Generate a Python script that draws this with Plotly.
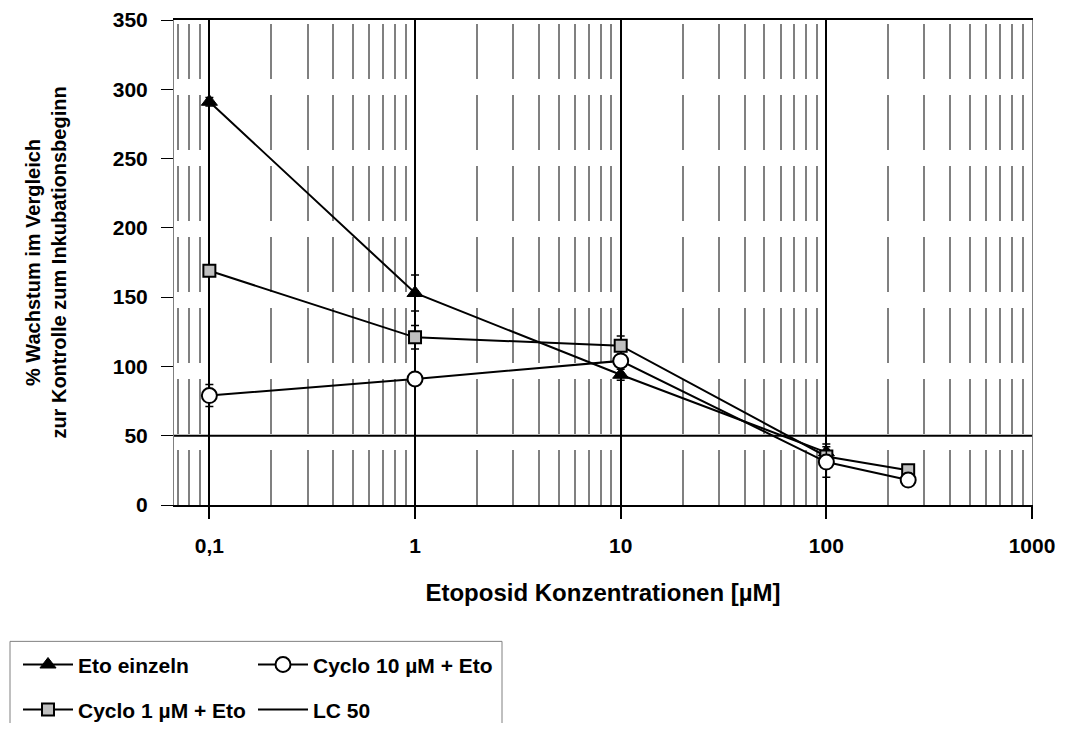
import plotly.graph_objects as go

# ---- data ----
conc = [0.1, 1, 10, 100, 250]
conc_eto = [0.1, 1, 10, 100]
eto_einzeln = [291, 153, 94, 38]
eto_einzeln_err = [3, 13, 4, 6]
cyclo1 = [169, 121, 115, 35, 25]
cyclo1_err = [3, 8.5, 7, 3, 2.5]
cyclo10 = [79, 91, 104, 31, 18]
cyclo10_err = [8, 3, 3, 11, 2]
lc50_x = [0.0673, 1000]
lc50_y = [50, 50]

xtick_vals = [0.1, 1, 10, 100, 1000]
xtick_text = ["0,1", "1", "10", "100", "1000"]
ytick_vals = [0, 50, 100, 150, 200, 250, 300, 350]

FONT = "Arial, Liberation Sans, sans-serif"
OFF = 8  # page body margin
W, H = 1060, 715
# plot area on screen: x 174..1032, y 20..505.5
L, T = 174 - OFF, 20 - OFF
R = W - (1032 - OFF)
B = H - (505.5 - OFF)
PW, PH = W - L - R, H - T - B


def px_to_paper_x(px):
    return (px - OFF - L) / PW


def px_to_paper_y(py):
    return (H - B - (py - OFF)) / PH


fig = go.Figure()

fig.add_trace(go.Scatter(
    x=lc50_x, y=lc50_y, mode="lines", name="LC 50",
    line=dict(color="black", width=2), legend="legend4",
    cliponaxis=True,
))
fig.add_trace(go.Scatter(
    x=conc_eto, y=eto_einzeln, name="Eto einzeln", mode="lines+markers",
    line=dict(color="black", width=2),
    marker=dict(symbol="triangle-up", size=14, color="black",
                line=dict(color="black", width=1)),
    error_y=dict(type="data", array=eto_einzeln_err, color="black",
                 thickness=1.5, width=4),
    legend="legend", cliponaxis=False,
))
fig.add_trace(go.Scatter(
    x=conc, y=cyclo1, name="Cyclo 1 µM + Eto", mode="lines+markers",
    line=dict(color="black", width=2),
    marker=dict(symbol="square", size=12, color="#c0c0c0",
                line=dict(color="black", width=2)),
    error_y=dict(type="data", array=cyclo1_err, color="black",
                 thickness=1.5, width=4),
    legend="legend3", cliponaxis=False,
))
fig.add_trace(go.Scatter(
    x=conc, y=cyclo10, name="Cyclo 10 µM + Eto", mode="lines+markers",
    line=dict(color="black", width=2),
    marker=dict(symbol="circle", size=15, color="white",
                line=dict(color="black", width=2)),
    error_y=dict(type="data", array=cyclo10_err, color="black",
                 thickness=1.5, width=4),
    legend="legend2", cliponaxis=False,
))

tickfont = dict(family=FONT, size=21, color="black", weight="bold")

fig.update_xaxes(
    type="log", range=[-1.172, 3],
    tickvals=xtick_vals, ticktext=xtick_text,
    ticks="outside", ticklen=12, tickwidth=2, tickcolor="black",
    tickfont=tickfont, ticklabelstandoff=9,
    showgrid=True, gridcolor="black", gridwidth=2,
    minor=dict(dtick="D1", ticks="", showgrid=True, gridcolor="#808080",
               gridwidth=2, griddash="0px,4px,55px,12px"),
    showline=True, linecolor="black", linewidth=2, mirror=True,
    zeroline=False,
    title=dict(text="Etoposid Konzentrationen [µM]",
               font=dict(family=FONT, size=24, color="black", weight="bold"),
               standoff=28),
)
fig.update_yaxes(
    range=[0, 350], tickvals=ytick_vals,
    ticks="outside", ticklen=12, tickwidth=1, tickcolor="black",
    tickfont=tickfont, ticklabelstandoff=9,
    showgrid=False, zeroline=False,
    showline=True, linecolor="#808080", linewidth=1, mirror=True,
    title=dict(text="% Wachstum im Vergleich<br>zur Kontrolle zum Inkubationsbeginn",
               font=dict(family=FONT, size=20, color="black", weight="bold"),
               standoff=40),
)

legend_font = dict(family=FONT, size=21, color="black", weight="bold")
leg_common = dict(orientation="h", xanchor="left", yanchor="top",
                  font=legend_font, bgcolor="rgba(0,0,0,0)",
                  borderwidth=0, itemwidth=50)
col1_x, col2_x = px_to_paper_x(18), px_to_paper_x(253)
row1_y, row2_y = px_to_paper_y(645), px_to_paper_y(690)
fig.update_layout(
    width=W, height=H,
    margin=dict(l=L, r=R, t=T, b=B, autoexpand=False),
    paper_bgcolor="white", plot_bgcolor="white",
    font=dict(family=FONT, color="black"),
    legend=dict(x=col1_x, y=row1_y, **leg_common),
    legend2=dict(x=col2_x, y=row1_y, **leg_common),
    legend3=dict(x=col1_x, y=row2_y, **leg_common),
    legend4=dict(x=col2_x, y=row2_y, **leg_common),
    shapes=[dict(type="rect", xref="paper", yref="paper",
                 x0=px_to_paper_x(10), x1=px_to_paper_x(502),
                 y0=px_to_paper_y(642), y1=px_to_paper_y(760),
                 line=dict(color="#808080", width=1), fillcolor="rgba(0,0,0,0)",
                 layer="above")],
    showlegend=True,
)

fig.write_html("out.html")
